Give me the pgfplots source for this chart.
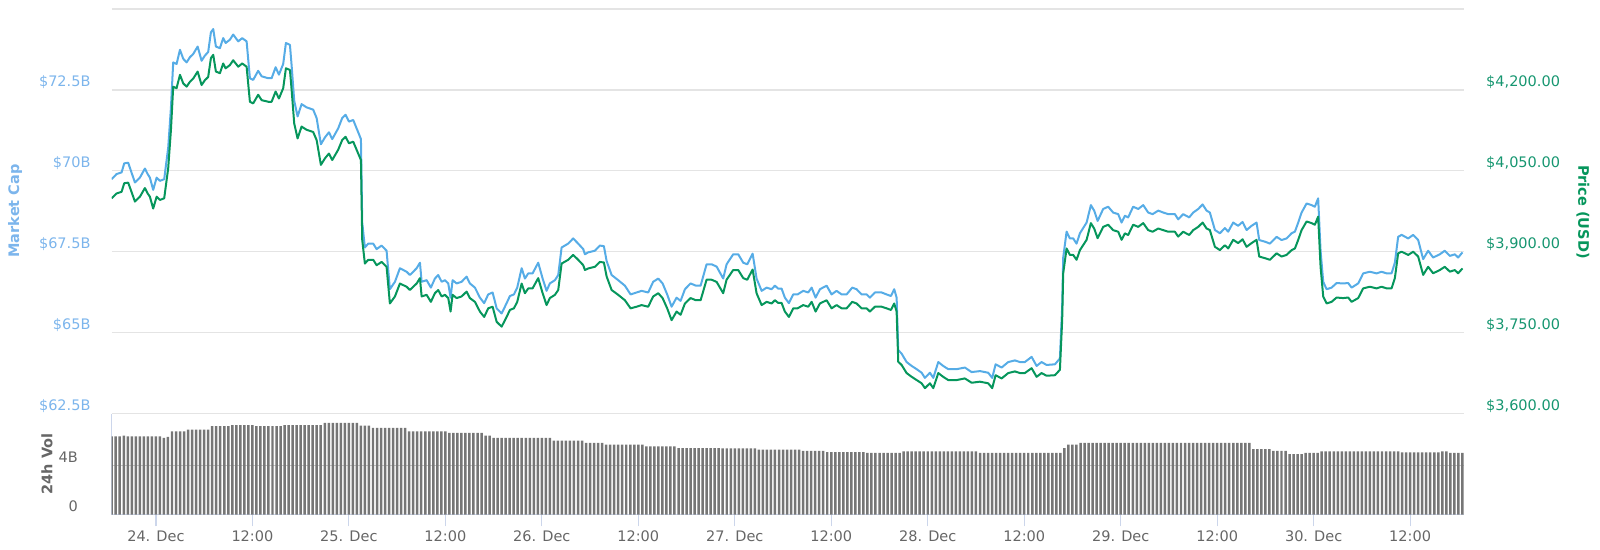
\documentclass[border=0pt]{standalone}
\usepackage{pgfplots}
\pgfplotsset{compat=1.18}
\usepackage{pgfplotstable}
\usepackage{fontspec}
\setmainfont{DejaVu Sans}
\definecolor{mcblue}{RGB}{86,172,230}
\definecolor{mclabel}{RGB}{124,181,236}
\definecolor{prgreen}{RGB}{6,150,92}
\definecolor{prlabel}{RGB}{22,150,112}
\definecolor{gridc}{RGB}{228,228,228}
\definecolor{axisc}{RGB}{204,214,235}
\definecolor{volc}{RGB}{118,118,118}
\definecolor{txtc}{RGB}{102,102,102}

\pgfplotstableread{
h p m
-5.51 3999 69.74
-4.89 4008 69.90
-4.27 4011 69.95
-3.94 4027 70.23
-3.45 4028 70.25
-3.11 4014 70.00
-2.61 3993 69.64
-1.99 4002 69.79
-1.37 4018 70.07
-1.03 4008 69.90
-0.75 4002 69.79
-0.34 3980 69.41
0.09 4002 69.79
0.50 3996 69.69
1.03 3999 69.74
1.53 4055 70.72
1.87 4126 71.96
2.15 4206 73.35
2.57 4203 73.30
2.99 4228 73.74
3.40 4212 73.46
3.82 4206 73.35
4.23 4215 73.51
4.64 4221 73.61
5.19 4234 73.84
5.68 4209 73.40
6.09 4218 73.56
6.50 4224 73.67
6.84 4259 74.28
7.13 4265 74.38
7.46 4234 73.84
7.96 4231 73.79
8.37 4249 74.10
8.67 4240 73.95
9.20 4246 74.05
9.61 4255 74.21
10.24 4243 74.00
10.73 4249 74.10
11.28 4243 74.00
11.69 4178 72.86
12.10 4175 72.81
12.72 4191 73.09
13.15 4181 72.92
13.97 4178 72.86
14.39 4178 72.86
14.89 4197 73.20
15.30 4184 72.97
15.83 4203 73.30
16.17 4240 73.95
16.67 4237 73.89
16.88 4200 73.25
17.20 4138 72.17
17.62 4110 71.68
18.12 4132 72.06
18.74 4126 71.96
19.56 4122 71.89
19.99 4107 71.63
20.52 4061 70.82
21.02 4073 71.03
21.52 4082 71.19
21.93 4070 70.98
22.67 4089 71.31
23.17 4107 71.63
23.59 4113 71.73
24.01 4101 71.52
24.54 4104 71.57
25.16 4082 71.19
25.50 4070 70.98
25.66 3922 68.40
25.99 3878 67.63
26.41 3885 67.75
27.03 3885 67.75
27.45 3875 67.58
28.07 3881 67.69
28.69 3872 67.53
29.10 3804 66.34
29.73 3817 66.57
30.35 3841 66.99
31.18 3835 66.88
31.59 3829 66.78
32.00 3835 66.88
32.43 3841 66.99
32.84 3851 67.16
33.05 3817 66.57
33.67 3820 66.62
34.20 3807 66.39
34.70 3823 66.67
35.11 3829 66.78
35.54 3817 66.57
35.95 3820 66.62
36.36 3814 66.52
36.65 3789 66.08
36.90 3820 66.62
37.40 3814 66.52
38.02 3817 66.57
38.64 3826 66.73
39.05 3814 66.52
39.68 3807 66.39
40.30 3789 66.08
40.83 3779 65.91
41.33 3795 66.18
41.88 3798 66.24
42.38 3770 65.75
43.00 3761 65.59
43.62 3779 65.91
44.03 3792 66.13
44.53 3795 66.18
44.94 3807 66.39
45.49 3841 66.99
45.90 3823 66.67
46.31 3832 66.83
46.85 3832 66.83
47.55 3851 67.16
48.10 3823 66.67
48.59 3801 66.29
49.00 3814 66.52
49.63 3820 66.62
50.04 3829 66.78
50.46 3878 67.63
51.28 3885 67.75
51.90 3894 67.91
52.52 3885 67.75
53.15 3875 67.58
53.36 3866 67.42
53.77 3869 67.48
54.60 3872 67.53
55.22 3881 67.69
55.72 3880 67.67
56.06 3854 67.21
56.68 3829 66.78
57.50 3820 66.62
58.33 3810 66.45
59.04 3795 66.18
59.79 3798 66.24
60.41 3801 66.29
61.23 3798 66.24
61.85 3817 66.57
62.48 3823 66.67
63.02 3814 66.52
63.59 3795 66.18
64.14 3773 65.80
64.76 3789 66.08
65.26 3783 65.98
65.80 3804 66.34
66.50 3814 66.52
67.16 3810 66.45
67.75 3810 66.45
68.49 3848 67.11
69.12 3848 67.11
69.74 3844 67.04
70.56 3823 66.67
70.98 3848 67.11
71.80 3866 67.42
72.43 3866 67.42
73.05 3851 67.16
73.55 3848 67.11
74.22 3867 67.44
74.71 3823 66.67
75.34 3801 66.29
75.96 3807 66.39
76.58 3804 66.34
76.99 3810 66.45
77.40 3805 66.36
77.82 3805 66.36
78.23 3789 66.08
78.73 3779 65.91
79.27 3795 66.18
79.81 3795 66.18
80.51 3801 66.29
81.13 3798 66.24
81.56 3807 66.39
82.05 3789 66.08
82.59 3804 66.34
83.42 3810 66.45
84.04 3795 66.18
84.66 3801 66.29
85.29 3795 66.18
85.91 3795 66.18
86.61 3807 66.39
87.15 3804 66.34
87.77 3795 66.18
88.40 3795 66.18
88.81 3789 66.08
89.43 3798 66.24
90.26 3798 66.24
90.88 3795 66.18
91.42 3792 66.13
91.83 3804 66.34
92.13 3789 66.08
92.33 3696 64.46
92.75 3690 64.35
93.37 3675 64.09
94.00 3668 63.97
94.62 3662 63.87
95.24 3656 63.76
95.65 3647 63.60
96.27 3656 63.76
96.69 3647 63.60
97.31 3675 64.09
97.92 3668 63.97
98.55 3662 63.87
99.59 3662 63.87
100.62 3665 63.92
101.46 3657 63.78
102.49 3659 63.81
103.52 3656 63.76
104.02 3647 63.60
104.44 3671 64.02
105.19 3665 63.92
106.01 3675 64.09
106.84 3678 64.14
107.46 3675 64.09
108.08 3675 64.09
108.92 3684 64.25
109.54 3668 63.97
110.16 3675 64.09
110.78 3670 64.00
111.82 3671 64.02
112.44 3681 64.20
112.72 3773 65.80
112.85 3860 67.32
113.27 3906 68.12
113.68 3894 67.91
114.09 3894 67.91
114.51 3885 67.75
114.93 3903 68.07
115.76 3922 68.40
116.29 3953 68.94
116.70 3943 68.77
117.13 3925 68.45
117.82 3946 68.82
118.44 3950 68.89
119.06 3940 68.71
119.69 3937 68.66
120.11 3922 68.40
120.52 3934 68.61
120.93 3931 68.56
121.55 3950 68.89
122.18 3946 68.82
122.80 3953 68.94
123.42 3940 68.71
123.97 3937 68.66
124.67 3943 68.77
125.29 3940 68.71
125.91 3937 68.66
126.74 3937 68.66
127.15 3928 68.50
127.77 3937 68.66
128.52 3931 68.56
129.02 3940 68.71
129.64 3946 68.82
130.19 3954 68.96
130.68 3943 68.77
131.09 3940 68.71
131.72 3909 68.17
132.34 3903 68.07
132.96 3912 68.23
133.37 3906 68.12
133.99 3922 68.40
134.61 3916 68.30
135.16 3923 68.42
135.66 3909 68.17
136.28 3916 68.30
136.90 3922 68.40
137.23 3891 67.86
137.94 3888 67.81
138.56 3885 67.75
139.39 3897 67.96
140.01 3891 67.86
140.63 3894 67.91
141.26 3903 68.07
141.67 3906 68.12
142.08 3922 68.40
142.50 3940 68.71
143.12 3956 68.99
143.74 3953 68.94
144.15 3950 68.89
144.56 3965 69.15
144.86 3872 67.53
145.19 3817 66.57
145.61 3804 66.34
146.23 3807 66.39
146.85 3815 66.53
147.67 3814 66.52
148.30 3815 66.53
148.72 3807 66.39
149.54 3814 66.52
150.16 3832 66.83
150.99 3835 66.88
151.83 3832 66.83
152.45 3835 66.88
153.07 3832 66.83
153.69 3832 66.83
154.10 3851 67.16
154.51 3897 67.96
154.94 3900 68.02
155.76 3894 67.91
156.38 3900 68.02
157.00 3891 67.86
157.62 3857 67.27
158.24 3872 67.53
158.86 3860 67.32
159.69 3866 67.42
160.31 3872 67.53
160.94 3863 67.37
161.56 3866 67.42
161.97 3860 67.32
162.51 3869 67.48
}\pricedata

\newcommand{\lbl}{\fontsize{14.5bp}{17bp}\selectfont}

\begin{document}
\begin{tikzpicture}
\useasboundingbox (0,0) rectangle (1600bp,550bp);
\pgfplotsset{base/.style={scale only axis, width=1352.3bp, xmin=-5.5, xmax=162.7,
  axis line style={draw=none}, major tick length=0pt, tick style={draw=none}, xtick=\empty}}

% Market cap (left axis)
\begin{axis}[base, at={(111.7bp,136.5bp)}, anchor=south west, height=404.5bp,
  ymin=62.5, ymax=75, ytick={62.5,65,67.5,70,72.5,75},
  yticklabels={\$62.5B,\$65B,\$67.5B,\$70B,\$72.5B,{}},
  ymajorgrids, grid style={gridc, line width=1.3bp},
  yticklabel style={anchor=base east, inner sep=0pt, xshift=-21bp, yshift=3bp, text=mclabel, font=\lbl}]
\addplot[mcblue, line width=2bp, line join=round] table[x=h,y=m]{\pricedata};
\end{axis}

% Price (right axis)
\begin{axis}[base, at={(111.7bp,136.5bp)}, anchor=south west, height=404.5bp,
  ymin=3600, ymax=4350, ytick={3600,3750,3900,4050,4200},
  yticklabels={{\$3,600.00},{\$3,750.00},{\$3,900.00},{\$4,050.00},{\$4,200.00}},
  yticklabel pos=right,
  yticklabel style={anchor=base west, inner sep=0pt, xshift=22bp, yshift=3bp, text=prlabel, font=\lbl}]
\addplot[prgreen, line width=2bp, line join=round] table[x=h,y=p]{\pricedata};
\end{axis}

% Volume
\begin{axis}[scale only axis, width=1352.3bp, height=101.2bp, at={(111.7bp,35.3bp)}, anchor=south west,
  xmin=-5.5, xmax=162.7, ymin=0, ymax=8.2,
  axis x line*=bottom, axis y line*=left,
  axis line style={draw=axisc, line width=1.2bp},
  ytick={0,4}, yticklabels={0,4B},
  ymajorgrids, grid style={black!22, line width=0.8bp},
  ytick style={draw=none},
  xtick={0,12,...,156},
  xticklabels={24. Dec,12:00,25. Dec,12:00,26. Dec,12:00,27. Dec,12:00,28. Dec,12:00,29. Dec,12:00,30. Dec,12:00},
  xtick style={draw=axisc, line width=1.2bp},
  tick align=outside, major tick length=11.7bp,
  xticklabel style={anchor=base, inner sep=0pt, yshift=-14.8bp, text=txtc, font=\lbl},
  yticklabel style={anchor=base east, inner sep=0pt, xshift=-22bp, yshift=3bp, text=txtc, font=\lbl},
  ybar, bar width=0.31, clip=true]
\addplot[draw=none, fill=volc] coordinates {
(-5.5,6.35)(-5,6.35)(-4.5,6.35)(-4,6.40)(-3.5,6.35)(-3,6.35)(-2.5,6.35)(-2,6.35)(-1.5,6.35)(-1,6.35)(-0.5,6.35)(0,6.35)(0.5,6.35)
(1,6.22)(1.5,6.30)(2,6.76)(2.5,6.76)(3,6.76)(3.5,6.76)
(4,6.90)(4.5,6.90)(5,6.90)(5.5,6.90)(6,6.90)(6.5,6.90)
(7,7.17)(7.5,7.17)(8,7.17)(8.5,7.17)(9,7.17)
(9.5,7.25)(10,7.25)(10.5,7.25)(11,7.25)(11.5,7.25)(12,7.25)
(12.5,7.17)(13,7.17)(13.5,7.17)(14,7.17)(14.5,7.17)(15,7.17)(15.5,7.17)
(16,7.25)(16.5,7.25)(17,7.25)(17.5,7.25)(18,7.25)(18.5,7.25)(19,7.25)(19.5,7.25)(20,7.25)(20.5,7.25)
(21,7.44)(21.5,7.44)(22,7.44)(22.5,7.44)(23,7.44)(23.5,7.44)(24,7.44)(24.5,7.44)(25,7.44)
(25.5,7.22)(26,7.22)(26.5,7.22)
(27,7.03)(27.5,7.03)(28,7.03)(28.5,7.03)(29,7.03)(29.5,7.03)(30,7.03)(30.5,7.03)(31,7.03)
(31.5,6.76)(32,6.76)(32.5,6.76)(33,6.76)(33.5,6.76)(34,6.76)(34.5,6.76)(35,6.76)(35.5,6.76)(36,6.76)
(36.5,6.63)(37,6.63)(37.5,6.63)(38,6.63)(38.5,6.63)(39,6.63)(39.5,6.63)(40,6.63)(40.5,6.63)
(41,6.41)(41.5,6.41)
(42,6.22)(42.5,6.22)(43,6.22)(43.5,6.22)(44,6.22)(44.5,6.22)(45,6.22)(45.5,6.22)(46,6.22)(46.5,6.22)(47,6.22)(47.5,6.22)(48,6.22)(48.5,6.22)(49,6.22)
(49.5,6.00)(50,6.00)(50.5,6.00)(51,6.00)(51.5,6.00)(52,6.00)(52.5,6.00)(53,6.00)
(53.5,5.81)(54,5.81)(54.5,5.81)(55,5.81)(55.5,5.81)
(56,5.67)(56.5,5.67)(57,5.67)(57.5,5.67)(58,5.67)(58.5,5.67)(59,5.67)(59.5,5.67)(60,5.67)(60.5,5.67)
(61,5.54)(61.5,5.54)(62,5.54)(62.5,5.54)(63,5.54)(63.5,5.54)(64,5.54)(64.5,5.54)
(65,5.40)(65.5,5.40)(66,5.40)(66.5,5.40)(67,5.40)(67.5,5.40)(68,5.40)(68.5,5.40)(69,5.40)(69.5,5.40)(70,5.40)
(70.5,5.38)(71,5.38)(71.5,5.38)(72,5.38)(72.5,5.38)(73,5.38)(73.5,5.38)(74,5.38)(74.5,5.38)
(75,5.27)(75.5,5.27)(76,5.27)(76.5,5.27)(77,5.27)(77.5,5.27)(78,5.27)(78.5,5.27)(79,5.27)(79.5,5.27)(80,5.27)
(80.5,5.18)(81,5.18)(81.5,5.18)(82,5.18)(82.5,5.18)(83,5.18)
(83.5,5.07)(84,5.07)(84.5,5.07)(85,5.07)(85.5,5.07)(86,5.07)(86.5,5.07)(87,5.07)(87.5,5.07)(88,5.07)
(88.5,5.00)(89,5.00)(89.5,5.00)(90,5.00)(90.5,5.00)(91,5.00)(91.5,5.00)(92,5.00)(92.5,5.00)
(93,5.13)(93.5,5.13)(94,5.13)(94.5,5.13)(95,5.13)(95.5,5.13)(96,5.13)(96.5,5.13)(97,5.13)(97.5,5.13)
(98,5.13)(98.5,5.13)(99,5.13)(99.5,5.13)(100,5.13)(100.5,5.13)(101,5.13)(101.5,5.13)(102,5.13)
(102.5,5.00)(103,5.00)(103.5,5.00)(104,5.00)(104.5,5.00)(105,5.00)(105.5,5.00)(106,5.00)(106.5,5.00)(107,5.00)
(107.5,5.00)(108,5.00)(108.5,5.00)(109,5.00)(109.5,5.00)(110,5.00)(110.5,5.00)(111,5.00)(111.5,5.00)(112,5.00)(112.5,5.00)
(113,5.40)(113.5,5.67)(114,5.67)(114.5,5.67)
(115,5.81)(115.5,5.81)(116,5.81)(116.5,5.81)(117,5.81)(117.5,5.81)(118,5.81)(118.5,5.81)(119,5.81)(119.5,5.81)
(120,5.81)(120.5,5.81)(121,5.81)(121.5,5.81)(122,5.81)(122.5,5.81)(123,5.81)(123.5,5.81)(124,5.81)(124.5,5.81)
(125,5.81)(125.5,5.81)(126,5.81)(126.5,5.81)(127,5.81)(127.5,5.81)(128,5.81)(128.5,5.81)(129,5.81)(129.5,5.81)
(130,5.81)(130.5,5.81)(131,5.81)(131.5,5.81)(132,5.81)(132.5,5.81)(133,5.81)(133.5,5.81)(134,5.81)(134.5,5.81)
(135,5.81)(135.5,5.81)(136,5.81)
(136.5,5.32)(137,5.32)(137.5,5.32)(138,5.32)(138.5,5.32)
(139,5.18)(139.5,5.18)(140,5.18)(140.5,5.18)
(141,4.91)(141.5,4.91)(142,4.91)(142.5,4.91)
(143,5.00)(143.5,5.00)(144,5.00)(144.5,5.00)
(145,5.13)(145.5,5.13)(146,5.13)(146.5,5.13)(147,5.13)(147.5,5.13)(148,5.13)(148.5,5.13)(149,5.13)(149.5,5.13)
(150,5.13)(150.5,5.13)(151,5.13)(151.5,5.13)(152,5.13)(152.5,5.13)(153,5.13)(153.5,5.13)(154,5.13)(154.5,5.13)
(155,5.05)(155.5,5.05)(156,5.05)(156.5,5.05)(157,5.05)(157.5,5.05)(158,5.05)(158.5,5.05)(159,5.05)(159.5,5.05)
(160,5.13)(160.5,5.13)
(161,5.00)(161.5,5.00)(162,5.00)(162.5,5.00)
};
\end{axis}

% Axis titles
\node[rotate=90, text=mclabel, font=\bfseries\fontsize{14.5bp}{17bp}\selectfont] at (15bp,339bp) {Market Cap};
\node[rotate=-90, text=prgreen, font=\bfseries\fontsize{14.5bp}{17bp}\selectfont] at (1583bp,338bp) {Price (USD)};
\node[rotate=90, text=txtc, font=\bfseries\fontsize{14.5bp}{17bp}\selectfont] at (47bp,86bp) {24h Vol};
\end{tikzpicture}
\end{document}
